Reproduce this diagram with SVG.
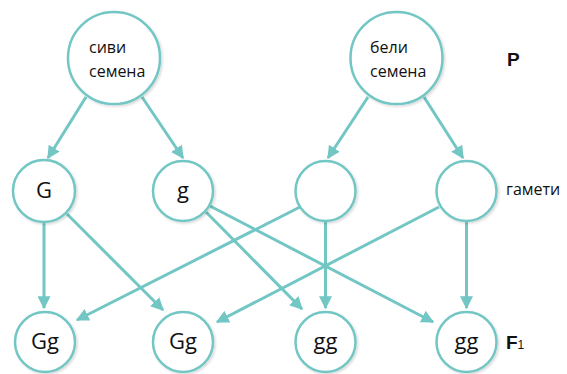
<svg xmlns="http://www.w3.org/2000/svg" width="567" height="374" viewBox="0 0 567 374">
<defs>
<style>
.node{fill:#fff;stroke:#72c6c4;stroke-width:2.5;filter:url(#sh)}
.lbl{font-family:"Open Sans","Liberation Sans",sans-serif;font-size:16px;fill:#111}
.gen{font-family:"Open Sans","Liberation Sans",sans-serif;font-size:22px;fill:#111;text-anchor:middle}
.edge{stroke:#72c6c4;stroke-width:3;fill:none;marker-end:url(#ah)}
.tag{font-family:"Liberation Sans",Arial,sans-serif;font-weight:bold;font-size:19px;fill:#111}
</style>
<filter id="sh" x="-20%" y="-20%" width="150%" height="150%">
<feDropShadow dx="1.5" dy="1.5" stdDeviation="1.2" flood-color="#000" flood-opacity="0.15"/>
</filter>
<marker id="ah" viewBox="0 0 10 10" refX="9" refY="5" markerWidth="13" markerHeight="13" markerUnits="userSpaceOnUse" orient="auto">
<path d="M0,0 L10,5 L0,10 Z" fill="#72c6c4"/>
</marker>
</defs>
<rect width="567" height="374" fill="#fff"/>
<g id="connectors">
<line class="edge" x1="86" y1="97" x2="48" y2="158"/>
<line class="edge" x1="142" y1="97" x2="183" y2="158"/>
<line class="edge" x1="368" y1="97" x2="328" y2="158"/>
<line class="edge" x1="424" y1="97" x2="463" y2="158"/>
<line class="edge" x1="44" y1="222" x2="44" y2="308"/>
<line class="edge" x1="67" y1="214" x2="163" y2="310"/>
<line class="edge" x1="206" y1="212" x2="302" y2="309"/>
<line class="edge" x1="210" y1="206" x2="433" y2="322"/>
<line class="edge" x1="300" y1="207" x2="77" y2="320"/>
<line class="edge" x1="325.5" y1="222" x2="325.5" y2="308"/>
<line class="edge" x1="439" y1="207" x2="217" y2="322"/>
<line class="edge" x1="466.5" y1="222" x2="466.5" y2="308"/>
</g>
<g id="p1"><circle class="node" cx="114" cy="58" r="46"/><text class="lbl" x="89" y="53">сиви</text><text class="lbl" x="89" y="77">семена</text></g>
<g id="p2"><circle class="node" cx="396.5" cy="58" r="46"/><text class="lbl" x="370" y="53">бели</text><text class="lbl" x="370" y="77">семена</text></g>
<g id="gam1"><circle class="node" cx="44" cy="191" r="31"/><text class="gen" x="44" y="198">G</text></g>
<g id="gam2"><circle class="node" cx="183" cy="191" r="30"/><text class="gen" x="183" y="198">g</text></g>
<g id="gam3"><circle class="node" cx="325.5" cy="191" r="30"/></g>
<g id="gam4"><circle class="node" cx="466.5" cy="191" r="30"/></g>
<g id="f1"><circle class="node" cx="45" cy="342" r="30"/><text class="gen" x="45" y="349">Gg</text></g>
<g id="f2"><circle class="node" cx="183" cy="342" r="30"/><text class="gen" x="183" y="349">Gg</text></g>
<g id="f3"><circle class="node" cx="325.5" cy="342" r="30"/><text class="gen" x="325.5" y="349">gg</text></g>
<g id="f4"><circle class="node" cx="466.5" cy="342" r="30"/><text class="gen" x="466.5" y="349">gg</text></g>
<g id="labels">
<text class="tag" x="507" y="66">P</text>
<text class="lbl" x="506" y="195">гамети</text>
<text class="tag" x="506" y="349">F<tspan font-size="12" font-weight="normal">1</tspan></text>
</g>
</svg>
